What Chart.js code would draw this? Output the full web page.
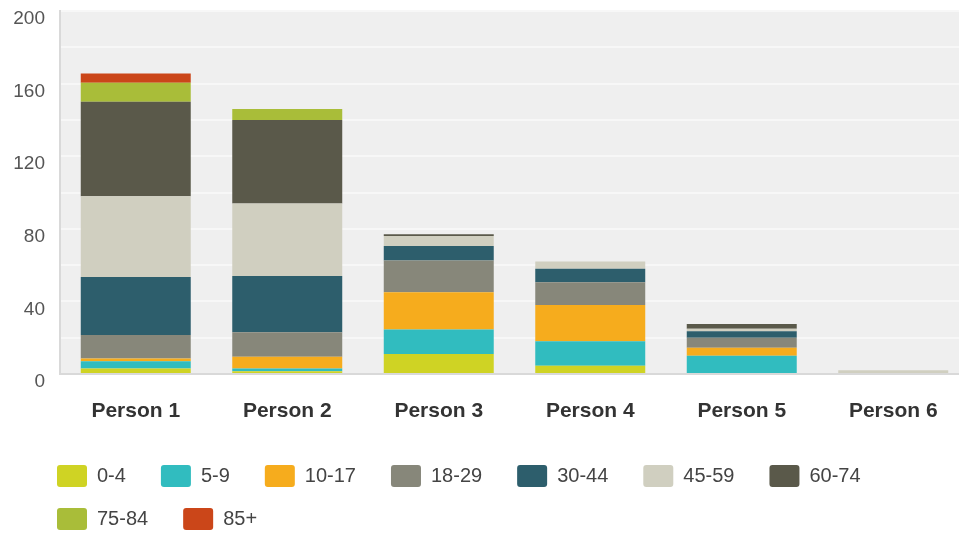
<!DOCTYPE html>
<html>
<head>
<meta charset="utf-8">
<script src="https://cdn.jsdelivr.net/npm/chart.js@4.4.1/dist/chart.umd.min.js"></script>
<style>
  body { margin: 0; overflow: hidden; background: #fff; }
  #wrap { width: 972px; height: 534px; }
</style>
</head>
<body>
<div id="wrap"><canvas id="ageChart"></canvas></div>
<script>
const persons = ["Person 1", "Person 2", "Person 3", "Person 4", "Person 5", "Person 6"];
const ageGroups = ["0-4", "5-9", "10-17", "18-29", "30-44", "45-59", "60-74", "75-84", "85+"];
const groupColors = ["#cfd324", "#31bcbf", "#f6ac1d", "#87877a", "#2d5e6c", "#d0cfc0", "#5a594a", "#a9bd39", "#cb4619"];

// values per age group, one entry per person
const age0to4 = [3, 1.5, 11, 4.5, 0.5, 0];
const age5to9 = [4, 1.5, 13.5, 13.5, 9.5, 0];
const age10to17 = [1.5, 6.5, 20.5, 20, 4.5, 0];
const age18to29 = [13, 13.5, 17.5, 12.5, 5.5, 0];
const age30to44 = [32, 31, 8, 7.5, 3.5, 0];
const age45to59 = [44.5, 40, 5.5, 4, 1.5, 2];
const age60to74 = [52, 46, 1, 0, 2.5, 0];
const age75to84 = [10.5, 6, 0, 0, 0, 0];
const age85plus = [5, 0, 0, 0, 0, 0];
const groupValues = [age0to4, age5to9, age10to17, age18to29, age30to44, age45to59, age60to74, age75to84, age85plus];

const yTicks = [0, 40, 80, 120, 160, 200];

const plotBackground = {
    id: "plotBackground",
    beforeDraw(chart) {
        const { ctx, chartArea } = chart;
        ctx.save();
        ctx.fillStyle = "#efefef";
        ctx.fillRect(chartArea.left, chartArea.top, chartArea.right - chartArea.left, chartArea.bottom - chartArea.top);
        ctx.restore();
    },
};

// push the legend rows in so they line up under the plot
const legendIndent = {
    id: "legendIndent",
    afterLayout(chart) {
        chart.legend.left += 36;
    },
};

const datasets = ageGroups.map((name, i) => ({
    label: name,
    data: groupValues[i],
    backgroundColor: groupColors[i],
    borderWidth: 0,
    categoryPercentage: 1,
    barPercentage: 0.726,
}));

new Chart(document.getElementById("ageChart"), {
    type: "bar",
    data: { labels: persons, datasets: datasets },
    plugins: [plotBackground, legendIndent],
    options: {
        responsive: true,
        maintainAspectRatio: false,
        animation: false,
        layout: { padding: { left: 0, right: 3, top: 11, bottom: -6 } },
        plugins: {
            tooltip: { enabled: false },
            legend: {
                position: "bottom",
                align: "start",
                labels: {
                    boxWidth: 30,
                    boxHeight: 22,
                    padding: 21,
                    useBorderRadius: true,
                    borderRadius: 3,
                    color: "#444",
                    font: { family: "'Liberation Sans', Arial, sans-serif", size: 20 },
                    generateLabels: (chart) => chart.data.datasets.map((ds, i) => ({
                        text: ds.label + "\u2002\u2009",
                        fillStyle: ds.backgroundColor,
                        strokeStyle: ds.backgroundColor,
                        lineWidth: 0,
                        fontColor: "#444",
                        hidden: false,
                        borderRadius: 3,
                        datasetIndex: i,
                    })),
                },
            },
        },
        scales: {
            x: {
                stacked: true,
                grid: { display: false, drawTicks: false },
                border: { color: "#d9d9d9", width: 2 },
                ticks: {
                    color: "#333",
                    padding: 25,
                    font: { family: "'Liberation Sans', Arial, sans-serif", size: 21, weight: "bold" },
                },
                afterFit: (scale) => { scale.height = 70; },
            },
            y: {
                stacked: true,
                min: 0,
                max: 200,
                grid: { color: "#f7f7f7", lineWidth: 2, drawTicks: false },
                border: { color: "#d9d9d9", width: 2 },
                ticks: {
                    stepSize: 20,
                    padding: 15,
                    labelOffset: 8,
                    color: "#555",
                    font: { family: "'Liberation Sans', Arial, sans-serif", size: 19 },
                    callback: (value) => (yTicks.includes(value) ? value : ""),
                },
                afterFit: (scale) => {
                    scale.width = 60;
                    scale.paddingTop = 0;
                    scale.paddingBottom = 0;
                },
            },
        },
    },
});
</script>
</body>
</html>
